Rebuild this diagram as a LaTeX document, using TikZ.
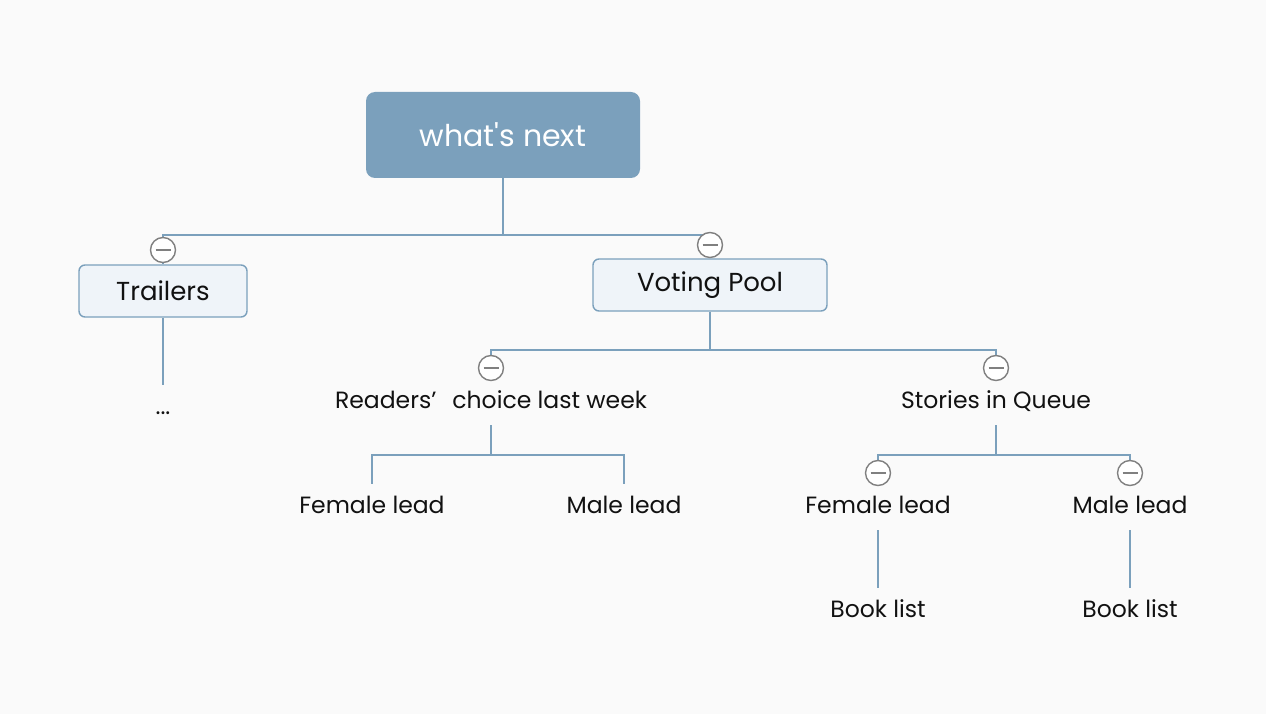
\documentclass[tikz,border=0pt]{standalone}
\usepackage{fontspec}
\setmainfont{Poppins}
\usetikzlibrary{shapes.misc}
\definecolor{pagebg}{RGB}{250,250,250}
\definecolor{topicblue}{RGB}{123,160,188}
\definecolor{boxfill}{RGB}{239,244,249}
\definecolor{foldgray}{RGB}{128,128,128}
\definecolor{inkblack}{RGB}{17,17,17}
\tikzset{
  link/.style={draw=topicblue, line width=1.6pt},
  roottopic/.style={rounded corners=9pt, fill=topicblue, text=white, minimum width=274, minimum height=86, inner sep=0pt, font=\fontsize{30}{36}\selectfont},
  maintopic/.style={rounded corners=6pt, draw=topicblue, line width=1.4pt, fill=boxfill, text=inkblack, inner sep=0pt, minimum height=52, font=\fontsize{26}{31}\selectfont},
  subtopic/.style={text=inkblack, inner sep=0pt, minimum height=46, text height=1.26em, text depth=0em, font=\fontsize{23.5}{28}\selectfont},
  fold/.style={circle, draw=foldgray, line width=1.4pt, fill=white, minimum size=25, inner sep=0pt,
    path picture={\draw[foldgray, line width=1.4pt] ([xshift=-7.5pt]path picture bounding box.center) -- ([xshift=7.5pt]path picture bounding box.center);}}
}
\begin{document}
\begin{tikzpicture}[x=1pt,y=-1pt]
\fill[pagebg] (0,0) rectangle (1266,714);
\useasboundingbox (0,0) rectangle (1266,714);

% topics
\node[roottopic] (root) at (503,135) {what\textquotesingle s next};
\node[maintopic, minimum width=168] (trailers) at (163,291) {Trailers};
\node[maintopic, minimum width=234] (pool) at (710,285) {Voting Pool};
\node[subtopic] (more) at (163,408) {...};
\node[subtopic] (readers) at (491,402) {Readers’\hspace{16pt}choice last week};
\node[subtopic] (queue) at (996,402) {Stories in Queue};
\node[subtopic] (rfemale) at (372,507) {Female lead};
\node[subtopic] (rmale) at (624,507) {Male lead};
\node[subtopic] (qfemale) at (878,507) {Female lead};
\node[subtopic] (qmale) at (1130,507) {Male lead};
\node[subtopic] (qfbooks) at (878,611) {Book list};
\node[subtopic] (qmbooks) at (1130,611) {Book list};

% junctions
\coordinate (jroot) at (503,235);
\coordinate (jpool) at (710,350);
\coordinate (jreaders) at (491,455);
\coordinate (jqueue) at (996,455);

% connectors
\draw[link] (root.south) -- (jroot) -| (trailers.north);
\draw[link] (jroot) -| (pool.north);
\draw[link] (trailers.south) -- (more.north);
\draw[link] (pool.south) -- (jpool) -| (readers.north);
\draw[link] (jpool) -| (queue.north);
\draw[link] (readers.south) -- (jreaders) -| (rfemale.north);
\draw[link] (jreaders) -| (rmale.north);
\draw[link] (queue.south) -- (jqueue) -| (qfemale.north);
\draw[link] (jqueue) -| (qmale.north);
\draw[link] (qfemale.south) -- (qfbooks.north);
\draw[link] (qmale.south) -- (qmbooks.north);

% fold markers
\node[fold] (ftrailers) at (163,250) {};
\node[fold] (fpool) at (710,245) {};
\node[fold] (freaders) at (491,368) {};
\node[fold] (fqueue) at (996,368) {};
\node[fold] (fqfemale) at (878,473) {};
\node[fold] (fqmale) at (1130,473) {};

\end{tikzpicture}
\end{document}
